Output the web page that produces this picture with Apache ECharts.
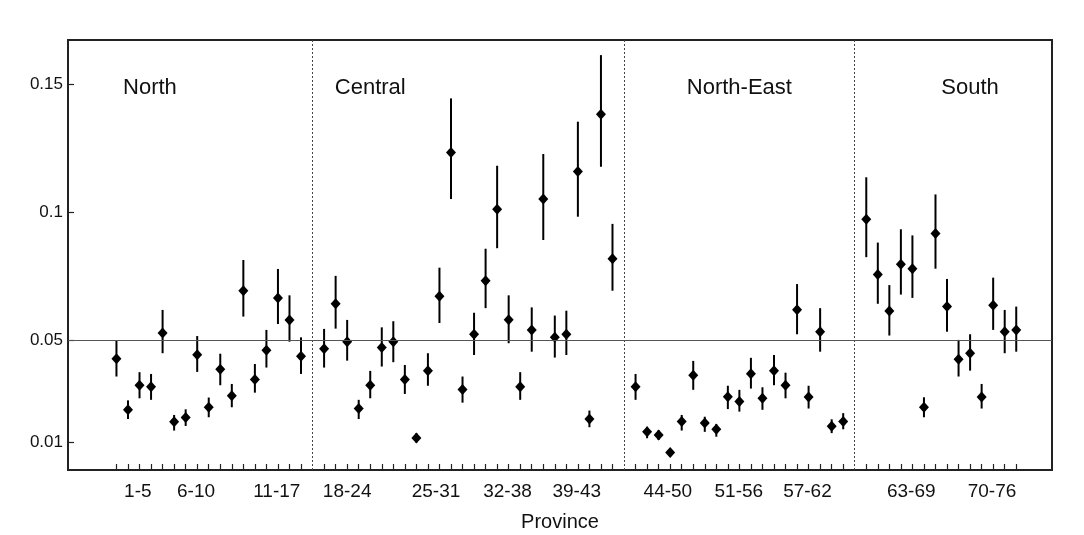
<!DOCTYPE html>
<html>
<head>
<meta charset="utf-8">
<script src="https://cdn.jsdelivr.net/npm/echarts@6/dist/echarts.min.js"></script>
<style>
  html, body { margin: 0; padding: 0; background: #fff; }
  #chart { width: 1084px; height: 535px; }
</style>
</head>
<body>
<div id="chart"></div>
<script>
  // regions, in order along the x axis
  const regionNames = ['North', 'Central', 'North-East', 'South'];
  const regionSizes = [17, 26, 19, 14];

  // tick labels under the axis
  const tickLabels = ['1-5', '6-10', '11-17', '18-24', '25-31', '32-38', '39-43',
    '44-50', '51-56', '57-62', '63-69', '70-76'];
  const tickLabelAt = [2.85, 7.9, 14.9, 21, 28.7, 34.9, 40.9, 48.8, 54.95, 60.9, 69.9, 76.9];
  const regionLabelAt = [3.9, 23, 55, 75];

  const yTicks = [0.01, 0.05, 0.1, 0.15];
  const overall = 0.047;

  // estimate per province (1..76)
  const est = [
    0.0427, 0.0228, 0.0324, 0.0318, 0.0528, 0.0181, 0.0198, 0.0443, 0.0238, 0.0386, 0.0283, 0.0693, 0.0346, 0.0461, 0.0665, 0.0579, 0.0437,
    0.0466, 0.0642, 0.0494, 0.0233, 0.0324, 0.0471, 0.0494, 0.0346, 0.0118, 0.0381, 0.0671, 0.1233, 0.0307, 0.0523, 0.0732, 0.1011, 0.0580, 0.0318, 0.0540, 0.1051, 0.0511, 0.0523, 0.1159, 0.0192, 0.1382, 0.0818,
    0.0318, 0.0142, 0.0130, 0.0061, 0.0182, 0.0363, 0.0177, 0.0152, 0.0279, 0.0260, 0.0369, 0.0273, 0.0381, 0.0324, 0.0619, 0.0278, 0.0533, 0.0164, 0.0182,
    0.0972, 0.0756, 0.0614, 0.0796, 0.0779, 0.0238, 0.0916, 0.0631, 0.0425, 0.0449, 0.0278, 0.0636, 0.0533, 0.0540
  ];
  const lo = [
    0.0358, 0.0192, 0.0273, 0.0267, 0.0449, 0.0147, 0.0165, 0.0376, 0.0199, 0.0324, 0.0238, 0.0592, 0.0295, 0.0393, 0.0563, 0.0494, 0.0368,
    0.0393, 0.0545, 0.0420, 0.0192, 0.0273, 0.0397, 0.0414, 0.0290, 0.0100, 0.0322, 0.0567, 0.1051, 0.0256, 0.0442, 0.0625, 0.0859, 0.0488, 0.0267, 0.0455, 0.0891, 0.0432, 0.0442, 0.0982, 0.0160, 0.1177, 0.0693,
    0.0267, 0.0117, 0.0110, 0.0045, 0.0147, 0.0306, 0.0142, 0.0123, 0.0231, 0.0221, 0.0311, 0.0228, 0.0324, 0.0273, 0.0523, 0.0233, 0.0455, 0.0137, 0.0152,
    0.0824, 0.0642, 0.0518, 0.0678, 0.0665, 0.0199, 0.0779, 0.0533, 0.0358, 0.0381, 0.0233, 0.0540, 0.0449, 0.0455
  ];
  const hi = [
    0.0498, 0.0265, 0.0375, 0.0368, 0.0618, 0.0208, 0.0230, 0.0516, 0.0276, 0.0447, 0.0329, 0.0813, 0.0407, 0.0540, 0.0778, 0.0675, 0.0511,
    0.0544, 0.0751, 0.0579, 0.0267, 0.0380, 0.0550, 0.0574, 0.0403, 0.0137, 0.0449, 0.0783, 0.1444, 0.0358, 0.0607, 0.0857, 0.1181, 0.0675, 0.0375, 0.0628, 0.1227, 0.0596, 0.0615, 0.1353, 0.0225, 0.1613, 0.0954,
    0.0368, 0.0162, 0.0149, 0.0074, 0.0208, 0.0419, 0.0201, 0.0173, 0.0322, 0.0306, 0.0431, 0.0316, 0.0442, 0.0373, 0.0719, 0.0322, 0.0625, 0.0191, 0.0215,
    0.1136, 0.0881, 0.0715, 0.0933, 0.0909, 0.0277, 0.1069, 0.0739, 0.0501, 0.0523, 0.0329, 0.0744, 0.0618, 0.0631
  ];

  // x slot of each province: one empty slot between regions (separator line)
  const slots = [];
  const separators = [];
  let pos = 1;
  regionSizes.forEach((n, g) => {
    for (let i = 0; i < n; i++) slots.push(pos++);
    if (g < regionSizes.length - 1) separators.push(pos++);
  });

  const points = est.map((v, i) => [slots[i], v]);
  const bars = est.map((v, i) => [slots[i], lo[i], hi[i]]);
  const regionMarks = regionNames.map((name, i) => ({ name: name, value: [regionLabelAt[i], 0.1484] }));

  const font = 'Liberation Sans, Arial, sans-serif';
  const chart = echarts.init(document.getElementById('chart'));

  chart.setOption({
    animation: false,
    grid: {
      left: 68, right: 32, top: 40, bottom: 65,
      outerBoundsMode: 'none',
      show: true, borderColor: '#222', borderWidth: 2, backgroundColor: 'transparent'
    },
    xAxis: {
      type: 'value',
      min: -3.2,
      max: 82.1,
      name: 'Province',
      nameLocation: 'middle',
      nameGap: 42,
      nameTextStyle: { fontFamily: font, fontSize: 20, color: '#111' },
      axisLine: { show: false, onZero: false },
      splitLine: { show: false },
      axisTick: { show: true, inside: true, length: 6, customValues: slots, lineStyle: { color: '#222', width: 1.2 } },
      axisLabel: {
        customValues: tickLabelAt,
        margin: 12,
        fontFamily: font, fontSize: 19, color: '#111',
        formatter: function (v) {
          let best = 0;
          tickLabelAt.forEach((p, i) => { if (Math.abs(p - v) < Math.abs(tickLabelAt[best] - v)) best = i; });
          return tickLabels[best];
        }
      }
    },
    yAxis: {
      type: 'value',
      min: -0.0007,
      max: 0.1672,
      axisLine: { show: false, onZero: false },
      splitLine: { show: false },
      axisTick: { show: true, inside: true, length: 6, customValues: yTicks, lineStyle: { color: '#222', width: 1.2 } },
      axisLabel: { customValues: yTicks, margin: 5, fontFamily: font, fontSize: 17, color: '#111' }
    },
    series: [
      {
        type: 'custom',
        data: bars,
        silent: true,
        renderItem: function (params, api) {
          const x = api.value(0);
          const a = api.coord([x, api.value(1)]);
          const b = api.coord([x, api.value(2)]);
          return {
            type: 'line',
            shape: { x1: a[0], y1: a[1], x2: b[0], y2: b[1] },
            style: { stroke: '#000', lineWidth: 2 }
          };
        },
        markLine: {
          silent: true,
          symbol: 'none',
          label: { show: false },
          data: separators.map(s => ({ xAxis: s })),
          lineStyle: { color: '#444', width: 1, type: [2, 2] }
        }
      },
      {
        type: 'scatter',
        data: points,
        symbol: 'diamond',
        symbolSize: [10, 11],
        itemStyle: { color: '#000', opacity: 1 },
        z: 3,
        markLine: {
          silent: true,
          symbol: 'none',
          label: { show: false },
          data: [{ yAxis: overall }],
          lineStyle: { color: '#555', width: 1, type: 'solid', opacity: 1 }
        }
      },
      {
        type: 'scatter',
        data: regionMarks,
        symbolSize: 1,
        itemStyle: { color: 'rgba(0,0,0,0)', opacity: 1 },
        silent: true,
        label: {
          show: true,
          position: 'inside',
          formatter: p => p.name,
          fontFamily: font, fontSize: 22, color: '#111', opacity: 1,
          textBorderWidth: 0
        }
      }
    ]
  });
</script>
</body>
</html>
